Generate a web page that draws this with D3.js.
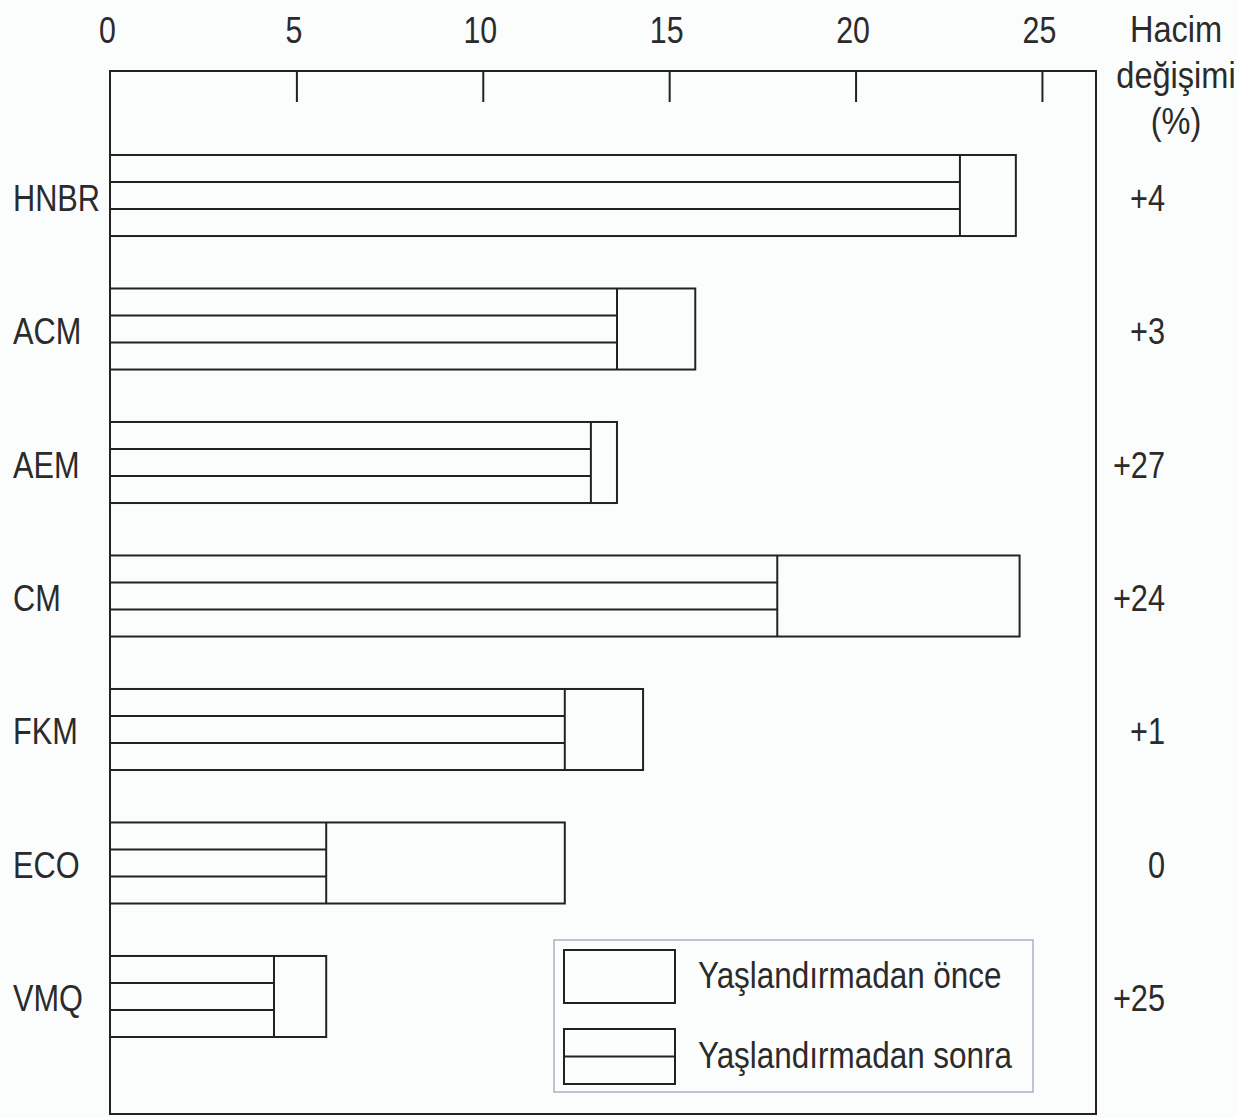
<!DOCTYPE html>
<html>
<head>
<meta charset="utf-8">
<script src="https://cdn.jsdelivr.net/npm/d3@7"></script>
<style>
  html, body { margin: 0; padding: 0; background: #fbfdfd; }
  svg text { font-family: "Liberation Sans", Arial, "Noto Sans", sans-serif; fill: #2b2b2b; font-size: 37px; }
</style>
</head>
<body>
<svg id="chart" width="1237" height="1118"></svg>
<script>
// ---- data ----
const categories = ["HNBR", "ACM", "AEM", "CM", "FKM", "ECO", "VMQ"];
const beforeAging = [24.3, 15.7, 13.6, 24.4, 14.3, 12.2, 5.8];   // Yaşlandırmadan önce
const afterAging  = [22.8, 13.6, 12.9, 17.9, 12.2, 5.8, 4.4];    // Yaşlandırmadan sonra
const volumeChange = ["+4", "+3", "+27", "+24", "+1", "0", "+25"]; // Hacim değişimi (%)
const tickValues = [0, 5, 10, 15, 20, 25];
const headerLines = ["Hacim", "değişimi", "(%)"];
const legendLabels = ["Yaşlandırmadan önce", "Yaşlandırmadan sonra"];

const svg = d3.select("#chart");
const ink = "#222";
const fLeft = 110, fRight = 1096, fTop = 71, fBottom = 1114;
// condensed type via horizontal scaling
const place = (sel, fx, fy, sx = 0.82) => sel.attr("x", 0).attr("y", 0)
  .attr("transform", (d, i) => `translate(${typeof fx === "function" ? fx(d, i) : fx},${typeof fy === "function" ? fy(d, i) : fy}) scale(${sx},1)`);

const x = d3.scaleLinear().domain([0, 26.45]).range([fLeft, fRight]);
const y = d3.scaleBand().domain(categories).range([128.75, 1063.25])
  .paddingInner(0.393).paddingOuter(0.1966);

// frame
svg.append("rect").attr("x", fLeft).attr("y", fTop)
  .attr("width", fRight - fLeft).attr("height", fBottom - fTop)
  .attr("fill", "none").attr("stroke", ink).attr("stroke-width", 2);

// top axis
const axis = d3.axisTop(x).tickValues(tickValues).tickSize(0).tickPadding(0).tickFormat(d3.format("d"));
const ag = svg.append("g").attr("transform", `translate(0,${fTop})`).call(axis);
ag.select(".domain").remove();
ag.attr("font-size", null).attr("font-family", null);
place(ag.selectAll("text").attr("dy", null).attr("fill", "#2b2b2b"), -3, -28);
ag.selectAll(".tick").filter(d => d > 0).append("line")
  .attr("y1", 0).attr("y2", 31).attr("stroke", ink).attr("stroke-width", 2);

// bars
const rows = categories.map((c, i) => ({ c, before: beforeAging[i], after: afterAging[i], chg: volumeChange[i] }));
const bh = y.bandwidth();
const g = svg.append("g").selectAll("g").data(rows).join("g")
  .attr("transform", d => `translate(0,${y(d.c)})`);

g.append("rect").attr("x", x(0)).attr("y", 0)
  .attr("width", d => x(d.before) - x(0)).attr("height", bh)
  .attr("fill", "none").attr("stroke", ink).attr("stroke-width", 2);
g.append("line").attr("x1", d => x(d.after)).attr("x2", d => x(d.after))
  .attr("y1", 0).attr("y2", bh).attr("stroke", ink).attr("stroke-width", 2);
[1, 2].forEach(k => {
  g.append("line").attr("x1", x(0)).attr("x2", d => x(d.after))
    .attr("y1", bh * k / 3).attr("y2", bh * k / 3).attr("stroke", ink).attr("stroke-width", 2);
});

// category labels
place(g.append("text").text(d => d.c), 13, bh / 2 + 15, 0.83);
// volume change labels
place(g.append("text").attr("text-anchor", "end").text(d => d.chg), 1165, bh / 2 + 15, 0.83);

// header
place(svg.append("g").selectAll("text").data(headerLines).join("text")
  .attr("text-anchor", "middle").text(d => d), 1176, (d, i) => 42 + i * 46, 0.88);

// legend
const lg = svg.append("g");
lg.append("rect").attr("x", 554).attr("y", 940).attr("width", 479).attr("height", 152)
  .attr("fill", "#fcfdfd").attr("stroke", "#a8b0c4").attr("stroke-width", 1.5);
lg.append("rect").attr("x", 564).attr("y", 950).attr("width", 111).attr("height", 53)
  .attr("fill", "none").attr("stroke", ink).attr("stroke-width", 2);
lg.append("rect").attr("x", 564).attr("y", 1029).attr("width", 111).attr("height", 55)
  .attr("fill", "none").attr("stroke", ink).attr("stroke-width", 2);
lg.append("line").attr("x1", 564).attr("x2", 675).attr("y1", 1056.5).attr("y2", 1056.5)
  .attr("stroke", ink).attr("stroke-width", 2);
place(lg.selectAll("text.lab").data(legendLabels).join("text").attr("class", "lab").text(d => d),
  698, (d, i) => 988 + i * 80, 0.85);
</script>
</body>
</html>
